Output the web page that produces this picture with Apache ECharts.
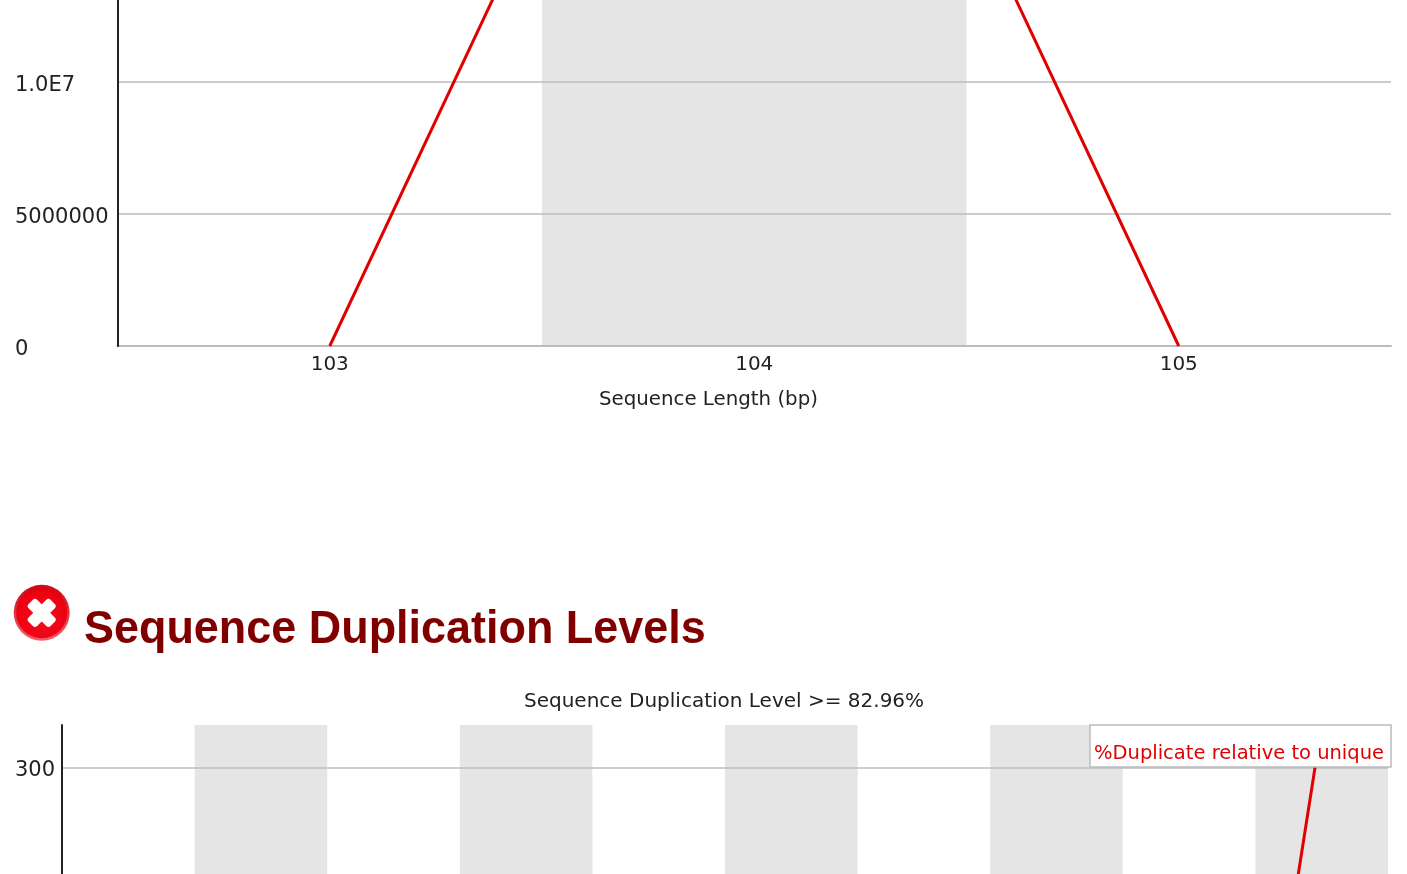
<!DOCTYPE html>
<html>
<head>
<meta charset="utf-8">
<title>Sequence Duplication Levels</title>
<script src="https://cdn.jsdelivr.net/npm/echarts@6/dist/echarts.min.js"></script>
<style>
  html, body { margin: 0; padding: 0; background: #fff; overflow: hidden; }
  #chart { width: 1407px; height: 874px; }
</style>
</head>
<body>
<div id="chart"></div>
<script>
const lengthCategories = ['103', '104', '105'];
const lengthValues = [0, 34200000, 0];
const dupCategories = ['1', '2', '3', '4', '5', '6', '7', '8', '9', '10++'];
const dupValues = [100, 22, 12, 8, 6, 5, 4, 3, 3, 316];
const headingText = 'Sequence Duplication Levels';
const dupTitle = 'Sequence Duplication Level >= 82.96%';
const lengthAxisName = 'Sequence Length (bp)';
const dupSeriesName = '%Duplicate relative to unique';

const font = 'DejaVu Sans';
const textColor = '#222';
const gridColor = '#bcbcbc';
const bandColor = '#e5e5e5';
const lineColor = '#e00000';

function lengthLabel(v) {
  return v >= 10000000 ? (v / 10000000).toFixed(1) + 'E7' : String(v);
}

const chart = echarts.init(document.getElementById('chart'), null, { renderer: 'canvas' });

function bandAxis(gridIndex, data) {
  return {
    type: 'category',
    gridIndex,
    data,
    z: 0,
    boundaryGap: true,
    axisTick: { show: false },
    axisLine: { onZero: false, lineStyle: { color: gridColor, width: 2 } },
    axisLabel: { color: textColor, fontFamily: font, fontSize: 20, margin: 9, interval: 0 },
    splitLine: { show: false },
    splitArea: { show: true, interval: 0, areaStyle: { color: ['rgba(255,255,255,0)', bandColor] } }
  };
}

// labels sit a bit below their grid line, rich padding is what moves them
function valueAxis(gridIndex, max, interval, margin, drop, formatter) {
  return {
    type: 'value',
    gridIndex,
    z: 1,
    min: 0,
    max,
    interval,
    axisLine: { show: true, lineStyle: { color: '#222', width: 2 } },
    axisTick: { show: false },
    axisLabel: {
      align: 'left',
      margin,
      showMaxLabel: false,
      formatter: v => '{t|' + (formatter ? formatter(v) : v) + '}',
      rich: {
        t: { color: textColor, fontFamily: font, fontSize: 21, padding: [drop * 2, 0, 0, 0] }
      }
    },
    splitLine: { show: true, showMaxLine: false, lineStyle: { color: gridColor, width: 1.5 } }
  };
}

chart.setOption({
  animation: false,
  backgroundColor: '#fff',
  title: [
    {
      text: lengthAxisName, left: 599, top: 390,
      textStyle: { color: textColor, fontFamily: font, fontSize: 19.8, fontWeight: 'normal' },
      padding: 0
    },
    {
      text: dupTitle, left: 524, top: 692,
      textStyle: { color: textColor, fontFamily: font, fontSize: 20, fontWeight: 'normal' },
      padding: 0
    }
  ],
  legend: {
    data: [dupSeriesName],
    left: 1090,
    top: 725,
    orient: 'horizontal',
    itemWidth: 0,
    itemHeight: 0,
    selectedMode: false,
    backgroundColor: '#fff',
    borderColor: gridColor,
    borderWidth: 1.5,
    padding: [19, 7, 3, -2],
    textStyle: { color: lineColor, fontFamily: font, fontSize: 19.5 }
  },
  grid: [
    { left: 117.5, top: -578, width: 1273.5, height: 924, outerBoundsMode: 'none' },
    { left: 62, top: 725, width: 1326, height: 853, outerBoundsMode: 'none' }
  ],
  xAxis: [
    bandAxis(0, lengthCategories),
    bandAxis(1, dupCategories)
  ],
  yAxis: [
    valueAxis(0, 35000000, 5000000, 102.5, 3.5, lengthLabel),
    valueAxis(1, 316, 100, 47, 2)
  ],
  series: [
    {
      name: 'Sequence Length',
      type: 'line',
      xAxisIndex: 0,
      yAxisIndex: 0,
      data: lengthValues,
      symbol: 'none',
      lineStyle: { color: lineColor, width: 3 }
    },
    {
      name: dupSeriesName,
      type: 'line',
      xAxisIndex: 1,
      yAxisIndex: 1,
      data: dupValues,
      symbol: 'none',
      clip: false,
      itemStyle: { color: lineColor },
      lineStyle: { color: lineColor, width: 3 }
    }
  ],
  graphic: [
    // heading is a little narrower than the plain bold font
    {
      type: 'text',
      x: 84,
      y: 630,
      scaleX: 0.956,
      style: {
        text: headingText,
        fill: '#800000',
        font: 'bold 47px "Liberation Sans"',
        verticalAlign: 'middle'
      }
    },
    // error icon next to the heading
    {
      type: 'group',
      x: 41.7,
      y: 612.8,
      children: [
        {
          type: 'circle',
          shape: { r: 28 },
          style: {
            fill: new echarts.graphic.LinearGradient(0, 0, 0, 1, [
              { offset: 0, color: '#c80a14' },
              { offset: 1, color: '#f0606a' }
            ])
          }
        },
        {
          type: 'circle',
          shape: { r: 25.5 },
          style: {
            fill: new echarts.graphic.RadialGradient(0.5, 0.6, 0.65, [
              { offset: 0, color: '#f01020' },
              { offset: 0.8, color: '#ee0010' },
              { offset: 1, color: '#d00010' }
            ])
          }
        },
        {
          type: 'rect',
          rotation: Math.PI / 4,
          shape: { x: -15.5, y: -6, width: 31, height: 12, r: 3 },
          style: { fill: '#fff' }
        },
        {
          type: 'rect',
          rotation: -Math.PI / 4,
          shape: { x: -15.5, y: -6, width: 31, height: 12, r: 3 },
          style: { fill: '#fff' }
        }
      ]
    }
  ]
});
</script>
</body>
</html>
